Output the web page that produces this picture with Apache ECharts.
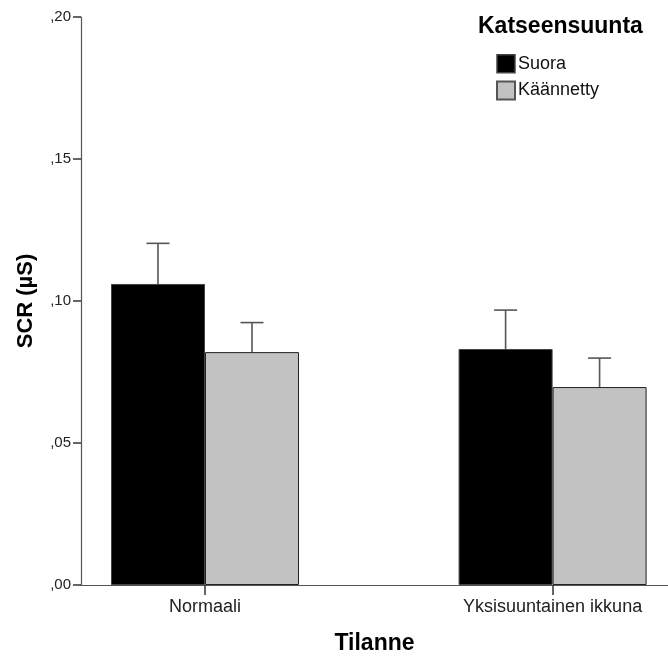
<!DOCTYPE html>
<html>
<head>
<meta charset="utf-8">
<script src="https://cdn.jsdelivr.net/npm/echarts@6/dist/echarts.min.js"></script>
<style>
html,body{margin:0;padding:0;background:#fff;}
#c{width:668px;height:659px;}
</style>
</head>
<body>
<div id="c"></div>
<script>
const categories = ['Normaali', 'Yksisuuntainen ikkuna'];
const seriesNames = ['Suora', 'Käännetty'];
const suoraMean = [0.106, 0.0831];
const suoraUpper = [0.1203, 0.0968];
const kaannettyMean = [0.0820, 0.0697];
const kaannettyUpper = [0.0924, 0.0799];
const yTicks = [0, 0.05, 0.10, 0.15, 0.20];

const FONT = '"Liberation Sans", Arial, sans-serif';
const BAR_W = 94;

function toPairs(arr) { return arr.map((v, i) => [i, v]); }
function errData(mean, upper) { return mean.map((v, i) => [i, v, upper[i]]); }

function errRender(side) {
  return function (params, api) {
    const i = api.value(0);
    const top = api.coord([i, api.value(2)]);
    const base = api.coord([i, api.value(1)]);
    const x = top[0] + side * BAR_W / 2;
    const cap = 11.5;
    const style = { stroke: '#555', lineWidth: 1.6 };
    return {
      type: 'group',
      children: [
        { type: 'line', shape: { x1: x, y1: base[1], x2: x, y2: top[1] }, style: style },
        { type: 'line', shape: { x1: x - cap, y1: top[1], x2: x + cap, y2: top[1] }, style: style }
      ]
    };
  };
}

const chart = echarts.init(document.getElementById('c'), null, { renderer: 'canvas' });
chart.setOption({
  backgroundColor: '#fff',
  animation: false,
  textStyle: { fontFamily: FONT },
  title: {
    text: 'Katseensuunta',
    left: 478, top: 15,
    padding: 0,
    textStyle: { fontFamily: FONT, fontSize: 23, fontWeight: 'bold', color: '#000' }
  },
  legend: {
    orient: 'vertical',
    left: 496, top: 54,
    padding: 0,
    icon: 'rect',
    itemWidth: 18, itemHeight: 18, itemGap: 7,
    textStyle: { fontFamily: FONT, fontSize: 18, color: '#111', padding: [0, 0, 0, -2] },
    data: [
      { name: seriesNames[0], itemStyle: { color: '#000', borderColor: '#444', borderWidth: 1.5 } },
      { name: seriesNames[1], itemStyle: { color: '#c2c2c2', borderColor: '#555', borderWidth: 2 } }
    ]
  },
  grid: { left: 81, right: 0, top: 17, bottom: 74, containLabel: false, outerBoundsMode: 'none' },
  xAxis: {
    type: 'value',
    min: -0.3567, max: 1.332,
    name: 'Tilanne',
    nameLocation: 'middle',
    nameGap: 47,
    nameTextStyle: { fontFamily: FONT, fontSize: 23, fontWeight: 'bold', color: '#000' },
    axisLine: { show: true, onZero: false, lineStyle: { color: '#555', width: 1.2 } },
    axisTick: { show: true, customValues: [0, 1], length: 10, lineStyle: { color: '#333', width: 1.5 } },
    axisLabel: {
      customValues: [0, 1],
      formatter: v => categories[Math.round(v)],
      margin: 13,
      fontFamily: FONT, fontSize: 18, color: '#222'
    },
    splitLine: { show: false }
  },
  yAxis: {
    type: 'value',
    min: 0, max: 0.2, interval: 0.05,
    name: 'SCR (µS)',
    nameLocation: 'middle',
    nameGap: 44,
    nameTextStyle: { fontFamily: FONT, fontSize: 22, fontWeight: 'bold', color: '#000' },
    axisLine: { show: true, onZero: false, lineStyle: { color: '#555', width: 1.2 } },
    axisTick: { show: true, length: 8, lineStyle: { color: '#333', width: 1.5 } },
    axisLabel: {
      margin: 10,
      formatter: v => ',' + v.toFixed(2).split('.')[1],
      fontFamily: FONT, fontSize: 15, color: '#222'
    },
    splitLine: { show: false }
  },
  series: [
    {
      name: seriesNames[0], type: 'bar',
      barWidth: BAR_W, barGap: '0%',
      itemStyle: { color: '#000', borderColor: '#444', borderWidth: 1 },
      data: toPairs(suoraMean), z: 2
    },
    {
      name: seriesNames[1], type: 'bar',
      barWidth: BAR_W, barGap: '0%',
      itemStyle: { color: '#c2c2c2', borderColor: '#222', borderWidth: 1 },
      data: toPairs(kaannettyMean), z: 2
    },
    {
      type: 'custom', name: 'errSuora', renderItem: errRender(-1),
      data: errData(suoraMean, suoraUpper), z: 5, silent: true,
      encode: { x: 0, y: [1, 2] }
    },
    {
      type: 'custom', name: 'errKaannetty', renderItem: errRender(1),
      data: errData(kaannettyMean, kaannettyUpper), z: 5, silent: true,
      encode: { x: 0, y: [1, 2] }
    }
  ]
});
</script>
</body>
</html>
